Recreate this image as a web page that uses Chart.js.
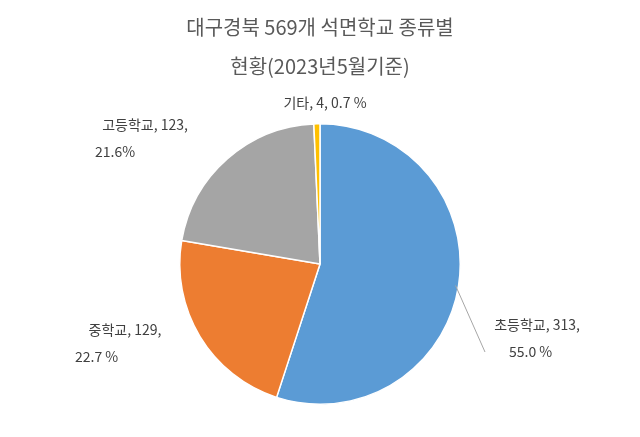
<!DOCTYPE html>
<html><head><meta charset="utf-8">
<script src="https://cdn.jsdelivr.net/npm/chart.js@4"></script>
<style>html,body{margin:0;background:#fff}#wrap{width:640px;height:437px}</style>
</head><body><div id="wrap"><canvas id="c"></canvas></div>
<script>
const titleLines = ['대구경북 569개 석면학교 종류별', '현황(2023년5월기준)'];
const categories = ['초등학교', '중학교', '고등학교', '기타'];
const values = [313, 129, 123, 4];
const percents = ['55.0 %', '22.7 %', '21.6%', '0.7 %'];
const colors = ['#5B9BD5', '#ED7D31', '#A5A5A5', '#FFC000'];

const font = '"Noto Sans CJK KR", "Noto Sans", sans-serif';

// label anchors relative to the pie centre
const anchors = [[217, 61], [-195, 66], [-175, -139], [5, -161]];

const labelPlugin = {
  id: 'labels',
  afterDraw(chart) {
    const ctx = chart.ctx;
    ctx.save();
    ctx.fillStyle = '#595959';
    ctx.textBaseline = 'middle';
    ctx.font = '20px ' + font;
    ctx.textAlign = 'center';
    ctx.fillText(titleLines[0], 320, 27);
    ctx.fillText(titleLines[1], 320, 66);

    ctx.font = '14px ' + font;
    ctx.fillStyle = '#404040';
    const meta = chart.getDatasetMeta(0);
    meta.data.forEach((arc, i) => {
      const x = arc.x + anchors[i][0];
      const y = arc.y + anchors[i][1];
      ctx.textAlign = 'center';
      if (i === 3) {
        ctx.fillText(categories[i] + ', ' + values[i] + ', ' + percents[i], x, y);
        return;
      }
      if (i === 0) {
        const mid = (arc.startAngle + arc.endAngle) / 2;
        const r = arc.outerRadius;
        ctx.strokeStyle = '#a6a6a6';
        ctx.lineWidth = 1;
        ctx.beginPath();
        ctx.moveTo(arc.x + Math.cos(mid) * (r - 3), arc.y + Math.sin(mid) * (r - 3));
        ctx.lineTo(x - 52, y + 27);
        ctx.stroke();
      }
      ctx.fillText(categories[i] + ', ' + values[i] + ',', x, y);
      ctx.textAlign = 'left';
      const px = i === 0 ? x - 28 : x - 50;
      ctx.fillText(percents[i], px, y + 27);
    });
    ctx.restore();
  }
};

new Chart(document.getElementById('c'), {
  type: 'pie',
  data: {
    labels: categories,
    datasets: [{ data: values, backgroundColor: colors, borderColor: '#fff', borderWidth: 1.5 }]
  },
  options: {
    responsive: true,
    maintainAspectRatio: false,
    animation: false,
    layout: { padding: { top: 123, bottom: 32, left: 179, right: 179 } },
    plugins: { legend: { display: false }, tooltip: { enabled: false }, title: { display: false } }
  },
  plugins: [labelPlugin]
});
</script></body></html>
